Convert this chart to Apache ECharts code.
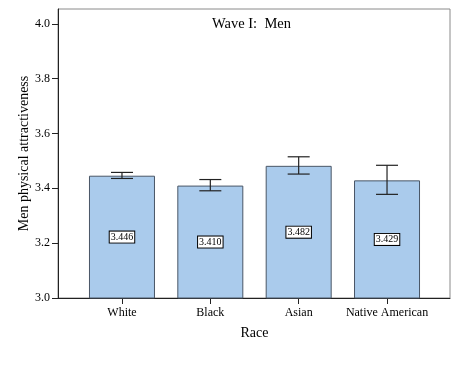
<!DOCTYPE html>
<html><head><meta charset="utf-8">
<script src="https://cdn.jsdelivr.net/npm/echarts@6/dist/echarts.min.js"></script>
<style>html,body{margin:0;padding:0;background:#fff}#c{width:460px;height:368px}</style>
</head><body><div id="c"></div>
<script>
const categories = ['White', 'Black', 'Asian', 'Native American'];
const means = [3.446, 3.410, 3.482, 3.429];
const ciLow = [3.436, 3.391, 3.452, 3.378];
const ciHigh = [3.458, 3.432, 3.515, 3.484];
const yTicks = [3.0, 3.2, 3.4, 3.6, 3.8, 4.0];

const FONT = 'Liberation Serif';
const chart = echarts.init(document.getElementById('c'));
chart.setOption({
  animation: false,
  title: {
    text: 'Wave I:  Men', left: 207, top: 12,
    textStyle: {fontFamily: FONT, fontSize: 14.5, fontWeight: 'normal', color: '#000'}
  },
  grid: [
    {left: 58, right: 10, top: 9, bottom: 70, show: true, borderColor: '#8a8a8a', borderWidth: 1},
    {left: 77.8, right: 28.8, top: 9, bottom: 70}
  ],
  xAxis: [
    {gridIndex: 0, type: 'value', min: 0, max: 1, axisLabel: {show: false}, axisTick: {show: false},
     splitLine: {show: false}, axisLine: {show: true, lineStyle: {color: '#222', width: 1}}},
    {gridIndex: 1, type: 'category', data: categories, axisLine: {show: false},
     axisTick: {show: true, alignWithLabel: true, length: 6, lineStyle: {color: '#222'}},
     axisLabel: {interval: 0, fontFamily: FONT, fontSize: 12, color: '#000', margin: 9},
     name: 'Race', nameLocation: 'middle', nameGap: 28,
     nameTextStyle: {fontFamily: FONT, fontSize: 14, color: '#000'}}
  ],
  yAxis: [
    {gridIndex: 0, type: 'value', min: 3.0, max: 4.054,
     axisLine: {show: true, lineStyle: {color: '#222', width: 1}},
     axisTick: {show: true, length: 6, customValues: yTicks, lineStyle: {color: '#222'}},
     axisLabel: {customValues: yTicks, formatter: v => v.toFixed(1), fontFamily: FONT, fontSize: 12, color: '#000', margin: 8},
     splitLine: {show: false},
     name: 'Men physical attractiveness', nameLocation: 'middle', nameGap: 27, nameRotate: 90,
     nameMoveOverlap: false,
     nameTextStyle: {fontFamily: FONT, fontSize: 14, color: '#000'}},
    {gridIndex: 1, type: 'value', min: 3.0, max: 4.054, show: false, splitLine: {show: false}}
  ],
  series: [
    {type: 'bar', xAxisIndex: 1, yAxisIndex: 1, data: means, barWidth: 66,
     itemStyle: {color: '#aacbec', borderColor: '#4a5666', borderWidth: 1},
     label: {show: true, position: 'inside', formatter: p => p.value.toFixed(3),
       fontFamily: FONT, fontSize: 10, color: '#000', backgroundColor: '#fff',
       borderColor: '#000', borderWidth: 1, padding: [1, 1, 0, 1]}},
    {type: 'custom', xAxisIndex: 1, yAxisIndex: 1, z: 5,
     data: categories.map((c, i) => [i, ciLow[i], ciHigh[i]]),
     renderItem: function (params, api) {
       const x = api.value(0);
       const lo = api.coord([x, api.value(1)]);
       const hi = api.coord([x, api.value(2)]);
       const hw = 11;
       const st = {stroke: '#222', lineWidth: 1.2};
       return {type: 'group', children: [
         {type: 'line', shape: {x1: lo[0], y1: lo[1], x2: hi[0], y2: hi[1]}, style: st},
         {type: 'line', shape: {x1: lo[0] - hw, y1: lo[1], x2: lo[0] + hw, y2: lo[1]}, style: st},
         {type: 'line', shape: {x1: hi[0] - hw, y1: hi[1], x2: hi[0] + hw, y2: hi[1]}, style: st}
       ]};
     }}
  ]
});
</script></body></html>
